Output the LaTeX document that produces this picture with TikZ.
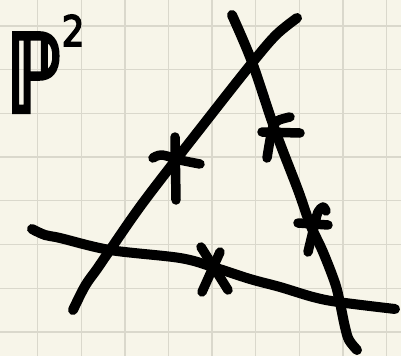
\documentclass[tikz,border=0pt]{standalone}
\usepackage{fontspec}
\newfontfamily\pfont{DejaVu Sans}[FakeBold=4]
\definecolor{paper}{HTML}{F7F5E9}
\definecolor{gridc}{HTML}{DAD8CC}
\begin{document}
\begin{tikzpicture}[x=1pt,y=-1pt,
  ink/.style={line width=10pt,line cap=round,line join=round,black},
  tick/.style={line width=9.5pt,line cap=round,line join=round,black},
  gridline/.style={gridc,line width=1.3pt}]
\fill[paper] (0,0) rectangle (401,356);
\useasboundingbox (0,0) rectangle (401,356);
% grid
\foreach \gx in {37.7,81.3,124.9,168.5,212.1,255.7,299.3,342.9,386.5}
  \draw[gridline] (\gx,0) -- (\gx,356);
\foreach \gy in {26,69.7,113.4,157.1,200.8,244.5,288.2,331.9}
  \draw[gridline] (0,\gy) -- (401,\gy);
% three lines
\draw[ink] plot[smooth,tension=0.55] coordinates {(73,310) (85,286) (97,269) (110,250) (145,200) (207,120) (252,63) (276,35) (297,18)};
\draw[ink] plot[smooth,tension=0.55] coordinates {(232,15) (252,62) (275,130) (298,190) (310,224) (323,252) (335,283) (340,303) (345,327) (349,340) (357,350)};
\draw[ink] plot[smooth,tension=0.55] coordinates {(32,229) (45,235) (60,238) (110,250) (180,258) (213,267) (250,279) (280,287) (313,297) (338,302) (395,309)};
% marks
\draw[tick] plot[smooth,tension=0.6] coordinates {(153,158) (162,155) (180,160) (200,164)};
\draw[tick] (175,137) -- (176,200);
\draw[tick] (262,132) -- (300,133);
\draw[tick] plot[smooth,tension=0.5] coordinates {(267,158) (272,130) (277,121) (290,117)};
\draw[tick] (298,223) -- (328,225);
\draw[tick] plot[smooth,tension=0.6] coordinates {(308,252) (315,223) (318,212) (323,207) (326,211)};
\draw[tick] (201,247) -- (228,290);
\draw[tick] (220,252) -- (202,292);
% label
\node[anchor=base west,inner sep=0pt] (lbl) at (6,112)
  {\pfont\scalebox{0.72}[1]{\fontsize{108}{108}\selectfont ℙ}\hspace{1pt}\raisebox{66pt}{\scalebox{0.85}[1]{\fontsize{42}{42}\selectfont 2}}};
\end{tikzpicture}
\end{document}
